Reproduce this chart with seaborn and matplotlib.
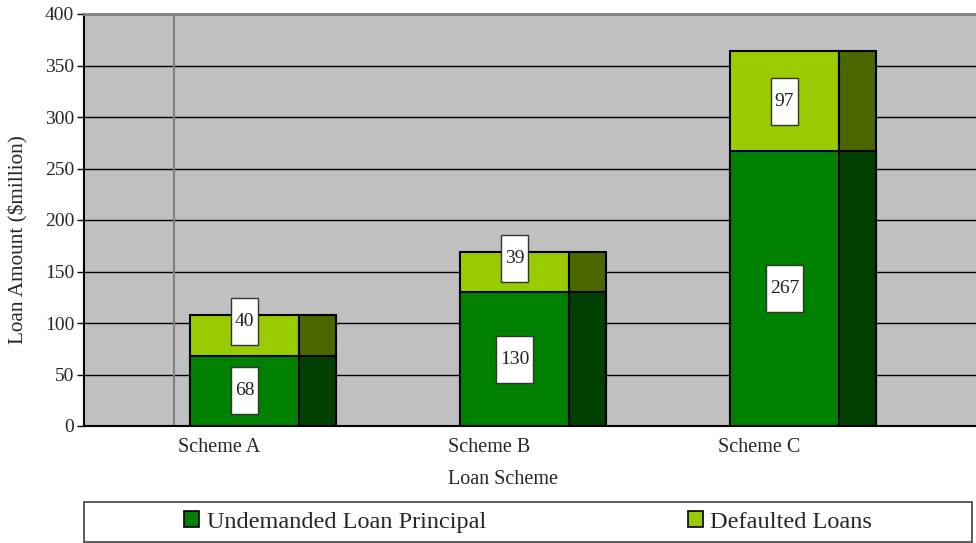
import numpy as np
import pandas as pd
import matplotlib
matplotlib.use("Agg")
import matplotlib.pyplot as plt
from matplotlib.patches import Patch, Rectangle
import seaborn as sns

# Loan amounts ($million) by scheme
schemes = ["Scheme A", "Scheme B", "Scheme C"]
undemanded_principal = [68, 130, 267]
defaulted_loans = [40, 39, 97]
y_ticks = [0, 50, 100, 150, 200, 250, 300, 350, 400]

series_names = ["Undemanded Loan Principal", "Defaulted Loans"]
front_colors = ["#008000", "#99CC00"]
side_colors = ["#004000", "#4C6600"]

sns.set_theme(style="white")
plt.rcParams["font.family"] = ["Liberation Serif", "DejaVu Serif"]

df = pd.DataFrame({
    "scheme": schemes,
    "principal": undemanded_principal,
    "defaulted": defaulted_loans,
})
df["total"] = df["principal"] + df["defaulted"]

# geometry of the pseudo-3D bars (in category units)
front_w = 0.404
side_w = 0.137
front_off = 0.0944
idx = np.arange(len(schemes))
df["front_x"] = idx + front_off
side_x = idx + front_off + front_w / 2 + side_w / 2

W, H = 976, 543
PX_PER_CAT = 270.0
fig = plt.figure(figsize=(W / 100, H / 100), dpi=100)
ax = fig.add_axes([84 / W, (H - 426) / H, (W - 84) / W, 412 / H])
ax.set_facecolor("#C0C0C0")

ax.set_xlim(-0.5, -0.5 + (W - 84) / PX_PER_CAT)
ax.set_ylim(0, 400)

# horizontal grid and the single vertical rule
for v in y_ticks[1:]:
    ax.axhline(v, color="black", lw=1.0, zorder=1)
ax.axvline(-1 / 6, color="#808080", lw=1.5, zorder=1)

# front faces: totals in light green, principal on top of it in dark green
sns.barplot(data=df, x="front_x", y="total", native_scale=True, width=front_w,
            color=front_colors[1], saturation=1, edgecolor="black",
            linewidth=1.5, ax=ax, zorder=3)
sns.barplot(data=df, x="front_x", y="principal", native_scale=True, width=front_w,
            color=front_colors[0], saturation=1, edgecolor="black",
            linewidth=1.5, ax=ax, zorder=4)

# side faces
ax.bar(side_x, df["total"], width=side_w, color=side_colors[1],
       edgecolor="black", linewidth=1.5, zorder=3)
ax.bar(side_x, df["principal"], width=side_w, color=side_colors[0],
       edgecolor="black", linewidth=1.5, zorder=4)

# value labels in white boxes (box width grows with the number of digits)
box_h = 45.6
for i, row in df.iterrows():
    segs = [(0, row["principal"]), (row["principal"], row["defaulted"])]
    for bottom, val in segs:
        label = f"{val:g}"
        box_w = (len(label) * 9.7 + 8.5) / PX_PER_CAT
        cy = max(bottom + val / 2, bottom + 33)
        cx = row["front_x"]
        ax.add_patch(Rectangle((cx - box_w / 2, cy - box_h / 2), box_w, box_h,
                               facecolor="white", edgecolor="#333333",
                               lw=1.0, zorder=6))
        ax.text(cx, cy, label, ha="center", va="center",
                fontsize=14, color="#222222", zorder=7)

# axes styling
ax.set_xticks(idx)
ax.set_xticklabels(schemes, fontsize=14.5)
ax.set_xticks(idx + 0.5, minor=True)
ax.tick_params(axis="x", which="major", length=0, pad=9)
ax.tick_params(axis="x", which="minor", direction="in", length=6,
               width=1, color="#333333")
ax.set_yticks(y_ticks)
ax.set_yticklabels([str(v) for v in y_ticks], fontsize=14)
ax.tick_params(axis="y", which="major", direction="out", length=5,
               width=1, color="black", pad=2, left=True)
ax.set_xlabel("")
ax.set_ylabel("")

for s in ["left", "bottom"]:
    ax.spines[s].set_color("black")
    ax.spines[s].set_linewidth(1.5)
ax.spines["top"].set_color("#808080")
ax.spines["top"].set_linewidth(2)
ax.spines["right"].set_visible(False)

fig.text(503 / W, 1 - 480 / H, "Loan Scheme", ha="center", va="center",
         fontsize=14.5)
fig.text(18 / W, 1 - 240 / H, "Loan Amount ($million)", ha="center",
         va="center", rotation=90, fontsize=15.3)

# legend frame and entries
fig.add_artist(Rectangle((84 / W, 1 - 542 / H), (972 - 84) / W, 40 / H,
                         transform=fig.transFigure, facecolor="white",
                         edgecolor="#404040", lw=1.2))
handles = [Patch(facecolor=c, edgecolor="black", lw=1.2) for c in front_colors]
fig.legend(handles, series_names, loc="center", ncol=2,
           bbox_to_anchor=(528 / W, 1 - 522 / H), frameon=False,
           fontsize=17.5, handlelength=0.62, handleheight=0.62,
           handletextpad=0.3, columnspacing=8.3)

fig.savefig("out.png", dpi=100)
